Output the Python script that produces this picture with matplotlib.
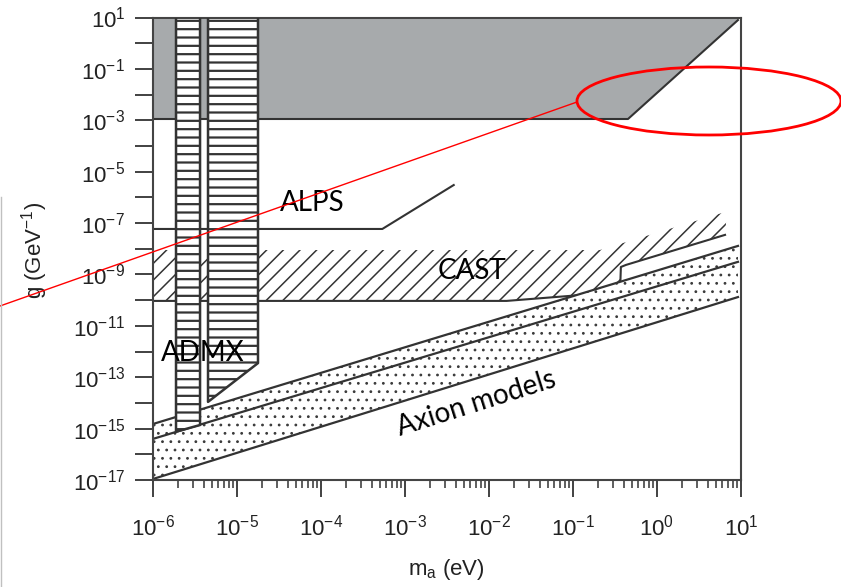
import numpy as np
import matplotlib
matplotlib.use("Agg")
import matplotlib.pyplot as plt
from matplotlib.patches import Polygon, Ellipse
from matplotlib.ticker import FixedLocator, FuncFormatter, NullFormatter, NullLocator, LogLocator

plt.rcParams['font.family'] = 'Liberation Sans'
plt.rcParams['mathtext.fontset'] = 'custom'
plt.rcParams['mathtext.rm'] = 'Liberation Sans'
plt.rcParams['mathtext.it'] = 'Liberation Sans:italic'
plt.rcParams['mathtext.bf'] = 'Liberation Sans:bold'
plt.rcParams['hatch.linewidth'] = 1.1

# values, as log10 of m_a (eV) and g (GeV^-1)
excl_logm = [-6.0, 0.97, 0.964, -0.345, -6.0]
excl_logg = [0.94, 0.94, 0.90, -2.95, -2.95]

alps_logm = [-6.0, -3.27, -2.42]
alps_logg = [-7.23, -7.23, -5.52]

cast_lo_logm = [-6.0, -1.79, -0.44, -0.43, -0.37, 0.81]
cast_lo_logg = [-10.03, -10.03, -9.68, -8.71, -8.63, -7.46]
cast_hi_logm = [-6.0, -0.68, 0.833]
cast_hi_logg = [-8.05, -8.05, -6.55]

admx1_logm = [-5.726, -5.44]
admx1_bottom = [-15.12, -14.86]
admx2_logm = [-5.345, -4.75]
admx2_bottom = [-13.96, -12.45]
admx_top = 0.94

axion_logm = [-6.0, 0.964]
axion_upper = [-14.82, -7.89]
axion_middle = [-15.40, -8.51]
axion_lower = [-16.96, -9.88]

x_decades = list(range(-6, 2))
y_decades = list(range(-17, 2))

LINE = '#333333'
GRAY = '#a7aaac'


def p(v):
    return 10.0 ** np.asarray(v, dtype=float)


def hatch_lw(artist, w):
    if hasattr(artist, 'set_hatch_linewidth'):
        artist.set_hatch_linewidth(w)


fig = plt.figure(figsize=(8.41, 5.87), dpi=100)
ax = fig.add_axes([153 / 841, 1 - 480 / 587, (741 - 153) / 841, (480 - 17.5) / 587])
ax.set_xscale('log')
ax.set_yscale('log')
ax.set_xlim(1e-6, 1e1)
ax.set_ylim(1e-17, 1e1)

# grey excluded region at the top
ax.add_patch(Polygon(np.column_stack([p(excl_logm), p(excl_logg)]), closed=True,
                     facecolor=GRAY, edgecolor='none', zorder=1))
ax.plot(p(excl_logm[2:]), p(excl_logg[2:]), color=LINE, lw=1.5, zorder=1.5)

# ALPS
ax.plot(p(alps_logm), p(alps_logg), color=LINE, lw=1.5, zorder=2)

# CAST hatched band
cast_m = list(cast_lo_logm) + cast_hi_logm[::-1]
cast_g = list(cast_lo_logg) + cast_hi_logg[::-1]
ax.add_patch(Polygon(np.column_stack([p(cast_m), p(cast_g)]), closed=True,
                     facecolor='none', edgecolor=LINE, lw=0, hatch='//', zorder=2))
ax.plot(p(cast_lo_logm), p(cast_lo_logg), color=LINE, lw=1.5, zorder=2.2)

# axion models band
band_fill = ax.fill_between(p(axion_logm), p(axion_lower), p(axion_upper), facecolor='white',
                            edgecolor='#3a3a3a', lw=0, hatch='..', zorder=2.4)
hatch_lw(band_fill, 0.8)
for band in (axion_upper, axion_middle, axion_lower):
    ax.plot(p(axion_logm), p(band), color=LINE, lw=1.6, zorder=2.5)

# ADMX strips
strip1 = [(admx1_logm[0], admx_top), (admx1_logm[0], admx1_bottom[0]),
          (admx1_logm[1], admx1_bottom[1]), (admx1_logm[1], admx_top)]
strip2 = [(admx2_logm[0], admx_top), (admx2_logm[0], admx2_bottom[0]),
          (admx2_logm[1], admx2_bottom[1]), (admx2_logm[1], admx_top)]
for strip in (strip1, strip2):
    xy = np.array(strip)
    ax.add_patch(Polygon(np.column_stack([p(xy[:, 0]), p(xy[:, 1])]), closed=True,
                         facecolor='white', edgecolor='none', zorder=3))
    hp = Polygon(np.column_stack([p(xy[:, 0]), p(xy[:, 1])]), closed=True,
                 facecolor='none', edgecolor=LINE, lw=0, hatch='--', zorder=3.1)
    hatch_lw(hp, 1.6)
    ax.add_patch(hp)
    ax.plot(p(xy[:, 0]), p(xy[:, 1]), color=LINE, lw=1.8, zorder=3.2)

# labels inside the plot
lab = dict(family='Lato', fontsize=20, color='black', zorder=5)
ax.text(10 ** -4.107, 10 ** -6.22, 'ALPS', ha='center', va='center', **lab)
ax.text(10 ** -2.20, 10 ** -8.86, 'CAST', ha='center', va='center', **lab)
ax.text(10 ** -5.405, 10 ** -12.05, 'ADMX', ha='center', va='center', **lab)
ax.text(10 ** -2.155, 10 ** -14.04, 'Axion models', ha='center', va='center',
        rotation=17.5, rotation_mode='anchor', **lab)

# axes and ticks
for s in ax.spines.values():
    s.set_color('#444444')
    s.set_linewidth(1.5)

ax.yaxis.set_major_locator(FixedLocator(p(y_decades)))
ax.yaxis.set_minor_locator(NullLocator())


def ylab(v, pos):
    e = int(round(np.log10(v)))
    return f'$10^{{{e}}}$' if e % 2 else ''


ax.yaxis.set_major_formatter(FuncFormatter(ylab))
ax.xaxis.set_major_locator(FixedLocator(p(x_decades)))
ax.xaxis.set_minor_locator(LogLocator(base=10, subs=np.arange(2, 10), numticks=20))
ax.xaxis.set_major_formatter(FuncFormatter(lambda v, pos: f'$10^{{{int(round(np.log10(v)))}}}$'))
ax.xaxis.set_minor_formatter(NullFormatter())

ax.tick_params(axis='y', which='major', direction='out', length=13, width=1.3,
               color=LINE, labelsize=16, labelcolor='#222222', pad=7)
ax.tick_params(axis='x', which='major', direction='out', length=12, width=1.3,
               color=LINE, labelsize=16, labelcolor='#222222', pad=13)
ax.tick_params(axis='x', which='minor', direction='out', length=6, width=1.1, color=LINE)

fig.text(35 / 841, 1 - 250 / 587, 'g (GeV$^{-1}$)', rotation=90, ha='center', va='center',
         fontsize=16, color='#222222')
fig.text(446 / 841, 1 - 570 / 587, 'm$_\\mathrm{a}$ (eV)', ha='center', va='center',
         fontsize=16, color='#222222')

# slide annotations drawn over the figure, in pixel coordinates
over = fig.add_axes([0, 0, 1, 1], zorder=10)
over.set_xlim(0, 841)
over.set_ylim(587, 0)
over.axis('off')
over.add_patch(Ellipse((709, 101), 264, 68, fill=False, edgecolor='red', lw=2))
over.plot([0, 577], [306, 102], color='red', lw=1)
over.plot([1, 1], [197, 587], color='#c0c0c0', lw=1)

fig.savefig('out.png', dpi=100)
